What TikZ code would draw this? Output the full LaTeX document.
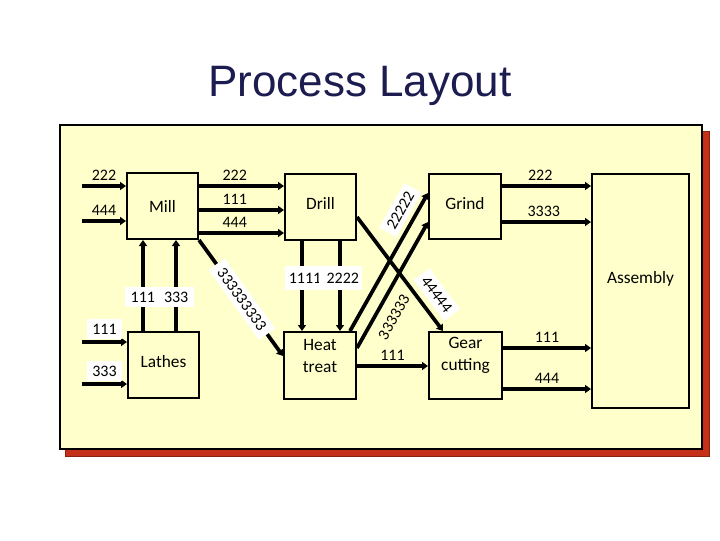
\documentclass[tikz,border=0pt]{standalone}
\usepackage{fontspec}
\setmainfont{Carlito}
\newfontfamily\titlefont{Liberation Sans}
\usetikzlibrary{arrows.meta}
\definecolor{panel}{HTML}{FFFFCC}
\definecolor{shadowred}{HTML}{C4301A}
\definecolor{titleblue}{HTML}{1C1C50}
\begin{document}
\begin{tikzpicture}[x=0.75pt,y=-0.75pt,
  box/.style={draw=black, line width=1.5pt, fill=panel, inner sep=0pt},
  boxtext/.style={font=\fontsize{13}{16.5}\selectfont, align=center, inner sep=0pt},
  flow/.style={line width=2.8pt, -{Triangle[length=4.5pt,width=6pt]}},
  lbl/.style={font=\fontsize{12}{14}\selectfont, inner sep=2.5pt},
  wlbl/.style={lbl, fill=white, inner xsep=4pt, inner ysep=3.5pt},
]
\useasboundingbox (0,0) rectangle (720,540);

% title
\node[font=\titlefont\fontsize{33}{36}\selectfont, text=titleblue, anchor=base] (title) at (360,96) {Process Layout};

% panel with shadow
\filldraw[fill=shadowred, draw=shadowred!70!black, line width=0.6pt] (65,131) rectangle (709,456);
\filldraw[fill=panel, draw=black, line width=1.5pt] (60,125) rectangle (702,449);

% boxes
\node[box, minimum width=53.25pt, minimum height=49.5pt,
  label={[boxtext]center:Mill}] (mill) at (162.5,206) {};
\node[box, minimum width=53.25pt, minimum height=49.5pt,
  label={[boxtext, yshift=3pt]center:Drill}] (drill) at (320.5,207) {};
\node[box, minimum width=54pt, minimum height=48.75pt,
  label={[boxtext, yshift=2.5pt]center:Grind}] (grind) at (465,206.5) {};
\node[box, minimum width=72.75pt, minimum height=175.5pt,
  label={[boxtext, yshift=9pt]center:Assembly}] (asm) at (640.5,291) {};
\node[box, minimum width=53.25pt, minimum height=49.5pt,
  label={[boxtext, yshift=2.5pt]center:Lathes}] (lathes) at (163.5,365) {};
\node[box, minimum width=54pt, minimum height=50.25pt,
  label={[boxtext, yshift=7.5pt]center:Heat\\treat}] (heat) at (320,365.5) {};
\node[box, minimum width=54.75pt, minimum height=50.25pt,
  label={[boxtext, yshift=7.5pt]center:Gear\\cutting}] (gear) at (465.5,365.5) {};

% free input ends
\coordinate (in222) at (82,186);
\coordinate (in444) at (82,221);
\coordinate (in111) at (82,342);
\coordinate (in333) at (82,384);

% inputs
\draw[flow] (in222) -- (in222 -| mill.west) node[lbl, midway, above] {222};
\draw[flow] (in444) -- (in444 -| mill.west) node[lbl, midway, above] {444};
\draw[flow] (in111) -- (in111 -| lathes.west) node[wlbl, midway, above=1pt] {111};
\draw[flow] (in333) -- (in333 -| lathes.west) node[wlbl, midway, above=1pt] {333};

% Mill -> Drill
\draw[flow] (mill.east |- 0,186) -- (drill.west |- 0,186) node[lbl, pos=0.42, above] {222};
\draw[flow] (mill.east |- 0,210) -- (drill.west |- 0,210) node[lbl, pos=0.42, above] {111};
\draw[flow] (mill.east |- 0,233) -- (drill.west |- 0,233) node[lbl, pos=0.42, above] {444};

% Lathes -> Mill
\draw[flow] (lathes.north -| 143,0) -- (mill.south -| 143,0);
\draw[flow] (lathes.north -| 176,0) -- (mill.south -| 176,0);
\node[wlbl, inner ysep=3.75pt] (l111333) at (159.5,297) {111\hspace{6.75pt}333};

% Drill -> Heat treat
\draw[flow] (drill.south -| 302,0) -- (heat.north -| 302,0);
\draw[flow] (drill.south -| 340,0) -- (heat.north -| 340,0);
\node[wlbl, inner xsep=2.5pt, inner ysep=5pt] (l1111) at (305,278) {1111};
\node[wlbl, inner xsep=2pt, inner ysep=5pt, anchor=east] (l2222) at (362,278) {\hspace{4pt}2222};

% Mill -> Heat treat
\draw[flow] (mill.south east) -- (heat.west |- 0,356)
  node[wlbl, sloped, pos=0.51, inner xsep=5pt] {333333333};

% Drill -> Gear cutting
\draw[flow] (drill.east |- 0,217) -- (gear.north -| 443,0)
  node[wlbl, sloped, pos=0.77, above=4pt] {44444};

% Heat treat -> Grind
\draw[flow] (heat.north -| 350,0) -- (grind.west |- 0,193)
  node[wlbl, sloped, pos=0.82, above=3pt] {22222};
\draw[flow] (heat.east |- 0,348) -- (grind.west |- 0,222)
  node[lbl, sloped, pos=0.31, below=5pt] {333333};

% Heat treat -> Gear cutting
\draw[flow] (heat.east |- 0,366) -- (gear.west |- 0,366) node[lbl, midway, above] {111};

% Grind -> Assembly
\draw[flow] (grind.east |- 0,186) -- (asm.west |- 0,186) node[lbl, pos=0.43, above] {222};
\draw[flow] (grind.east |- 0,222) -- (asm.west |- 0,222) node[lbl, pos=0.47, above] {3333};

% Gear cutting -> Assembly
\draw[flow] (gear.east |- 0,348) -- (asm.west |- 0,348) node[lbl, midway, above] {111};
\draw[flow] (gear.east |- 0,389) -- (asm.west |- 0,389) node[lbl, midway, above] {444};
\end{tikzpicture}
\end{document}
